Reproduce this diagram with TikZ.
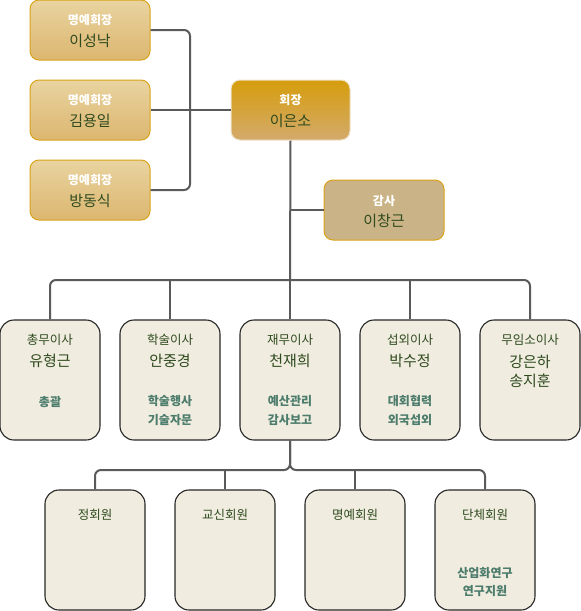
\documentclass[tikz,border=0pt]{standalone}
\usepackage{fontspec}
\setmainfont{Noto Sans CJK KR}
\usepackage{tikz}

\definecolor{honTop}{HTML}{E9D4A0}
\definecolor{honBot}{HTML}{DCB670}
\definecolor{goldLine}{HTML}{D9A31A}
\definecolor{chairTop}{HTML}{D59D0C}
\definecolor{chairBot}{HTML}{D4AA6C}
\definecolor{chairLine}{HTML}{EEE2C8}
\definecolor{auditFill}{HTML}{CAB487}
\definecolor{boxFill}{HTML}{F0ECDF}
\definecolor{boxLine}{HTML}{262626}
\definecolor{lineGray}{HTML}{5A5A5A}
\definecolor{nameGreen}{HTML}{2E4A1E}
\definecolor{descTeal}{HTML}{4C7C6C}

\tikzset{
  link/.style={draw=lineGray, line width=2pt, rounded corners=6pt},
  honbox/.style={draw=goldLine, line width=1pt, rounded corners=9pt, top color=honTop, bottom color=honBot, minimum width=120pt, minimum height=60pt},
  chairbox/.style={draw=chairLine, line width=1pt, rounded corners=9pt, top color=chairTop, bottom color=chairBot, minimum width=119pt, minimum height=60pt},
  auditbox/.style={draw=goldLine, line width=1pt, rounded corners=9pt, fill=auditFill, minimum width=120pt, minimum height=60pt},
  dirbox/.style={draw=boxLine, line width=1.1pt, rounded corners=14pt, fill=boxFill, minimum width=100pt, minimum height=120pt},
  htitle/.style={inner sep=0pt, text=white, font=\bfseries\fontsize{12}{14}\selectfont},
  hname/.style={inner sep=0pt, text=nameGreen, font=\fontsize{15}{17}\selectfont},
  dtitle/.style={inner sep=0pt, text=nameGreen, font=\fontsize{12.5}{14}\selectfont},
  ddesc/.style={inner sep=0pt, text=descTeal, font=\bfseries\fontsize{12}{14}\selectfont}
}

\begin{document}
\begin{tikzpicture}[x=1pt,y=-1pt]
\useasboundingbox (0,0) rectangle (581,611);

\node[honbox] (hon1) at (90,30) {}; %honorary 1
\node[honbox] (hon2) at (90,110) {}; %honorary 2
\node[honbox] (hon3) at (90,190) {}; %honorary 3
\node[chairbox] (chair) at (290.5,110) {}; %chair
\node[auditbox] (audit) at (384,210) {}; %auditor

\node[dirbox] (dir1) at (50,380) {}; %directors
\node[dirbox] (dir2) at (170,380) {};
\node[dirbox] (dir3) at (290,380) {};
\node[dirbox] (dir4) at (410,380) {};
\node[dirbox] (dir5) at (530,380) {};

\node[dirbox] (mem1) at (95,550) {}; %members
\node[dirbox] (mem2) at (225,550) {};
\node[dirbox] (mem3) at (355,550) {};
\node[dirbox] (mem4) at (485,550) {};

\coordinate (hj) at (190,110);
\coordinate (dbus) at (290,280);
\coordinate (mbus) at (290,470);

\draw[link] (hon1.east) -| (hj) |- (hon3.east); %honorary bracket
\draw[link] (hon2.east) -- (chair.west);
\draw[link] (chair.south) -- (dbus);
\draw[link] (chair.south |- audit.west) -- (audit.west); %auditor
\draw[link] (dir1.north) |- (dbus) -| (dir5.north); %director bus
\draw[link] (dir2.north) -- (dir2.north |- dbus);
\draw[link] (dir3.north) -- (dbus);
\draw[link] (dir4.north) -- (dir4.north |- dbus);
\draw[link] (dir3.south) -- (mbus) -| (mem1.north); %member bus
\draw[link] (dir3.south) -- (mbus) -| (mem4.north);
\draw[link] (mem2.north) -- (mem2.north |- mbus);
\draw[link] (mem3.north) -- (mem3.north |- mbus);

\node[htitle] (hon1t) at (90,20) {명예회장};
\node[hname] (hon1n) at (90,41) {이성낙};
\node[htitle] (hon2t) at (90,100) {명예회장};
\node[hname] (hon2n) at (90,121) {김용일};
\node[htitle] (hon3t) at (90,180) {명예회장};
\node[hname] (hon3n) at (90,201) {방동식};
\node[htitle] (chairt) at (290.5,100) {회장};
\node[hname] (chairn) at (290.5,121) {이은소};
\node[htitle] (auditt) at (384,201) {감사};
\node[hname] (auditn) at (384,221) {이창근};

\node[dtitle] (dir1t) at (50,340) {총무이사};
\node[hname] (dir1n) at (50,361) {유형근};
\node[ddesc] (dir1d) at (50,402) {총괄};
\node[dtitle] (dir2t) at (170,340) {학술이사};
\node[hname] (dir2n) at (170,361) {안중경};
\node[ddesc] (dir2d) at (170,401) {학술행사};
\node[ddesc] (dir2e) at (170,420) {기술자문};
\node[dtitle] (dir3t) at (290,340) {재무이사};
\node[hname] (dir3n) at (290,361) {천재희};
\node[ddesc] (dir3d) at (290,401) {예산관리};
\node[ddesc] (dir3e) at (290,420) {감사보고};
\node[dtitle] (dir4t) at (410,340) {섭외이사};
\node[hname] (dir4n) at (410,361) {박수정};
\node[ddesc] (dir4d) at (410,401) {대회협력};
\node[ddesc] (dir4e) at (410,420) {외국섭외};
\node[dtitle] (dir5t) at (530,340) {무임소이사};
\node[hname] (dir5n) at (530,362) {강은하};
\node[hname] (dir5m) at (530,381) {송지훈};

\node[dtitle] (mem1t) at (95,515) {정회원};
\node[dtitle] (mem2t) at (225,515) {교신회원};
\node[dtitle] (mem3t) at (355,515) {명예회원};
\node[dtitle] (mem4t) at (485,515) {단체회원};
\node[ddesc] (mem4d) at (485,573) {산업화연구};
\node[ddesc] (mem4e) at (485,591) {연구지원};

\end{tikzpicture}
\end{document}
